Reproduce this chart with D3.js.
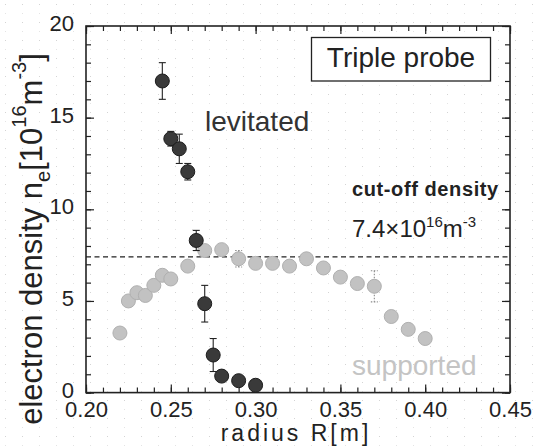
<!DOCTYPE html>
<html><head><meta charset="utf-8">
<script src="https://cdn.jsdelivr.net/npm/d3@7/dist/d3.min.js"></script>
<style>
html,body{margin:0;padding:0;background:#fff;}
svg{display:block;font-family:"Liberation Sans",Arial,sans-serif;}
</style></head>
<body>
<svg id="chart" width="536" height="448"></svg>
<script>
// ---- data ----
const levR   = [0.245, 0.250, 0.255, 0.260, 0.265, 0.270, 0.275, 0.280, 0.290, 0.300];
const levN   = [17.0, 13.85, 13.3, 12.05, 8.3, 4.85, 2.05, 0.9, 0.65, 0.4];
const levErr = [1.0, 0.4, 0.8, 0.45, 0.55, 1.0, 0.9, 0, 0, 0];

const supR   = [0.220, 0.225, 0.230, 0.235, 0.240, 0.245, 0.250, 0.260, 0.270, 0.280,
                0.290, 0.300, 0.310, 0.320, 0.330, 0.340, 0.350, 0.360, 0.370, 0.380, 0.390, 0.400];
const supN   = [3.25, 5.0, 5.45, 5.3, 5.85, 6.4, 6.2, 6.9, 7.75, 7.8,
                7.3, 7.05, 7.05, 6.9, 7.3, 6.8, 6.3, 5.95, 5.8, 4.15, 3.45, 2.95];
const supErr = [0, 0, 0, 0, 0, 0, 0, 0, 0, 0,
                0.45, 0, 0, 0, 0, 0, 0, 0, 0.85, 0, 0, 0];

const cutoff = 7.4;
const xTicks = [0.20, 0.25, 0.30, 0.35, 0.40, 0.45];
const yTicks = [0, 5, 10, 15, 20];

// ---- layout ----
const svg = d3.select("#chart");
const L = 86, R = 510, T = 26, B = 392.6;
const x = d3.scaleLinear().domain([0.20, 0.45]).range([L, R]);
const y = d3.scaleLinear().domain([0, 20]).range([B, T]);

// faint scan-like dot grid background
const defs = svg.append("defs");
const pat = defs.append("pattern").attr("id","dots").attr("patternUnits","userSpaceOnUse")
  .attr("width",17).attr("height",18).attr("x",5).attr("y",4);
pat.append("rect").attr("x",0).attr("y",0).attr("width",1).attr("height",1).attr("fill","#d4d4d4");
pat.append("rect").attr("x",0).attr("y",9).attr("width",1).attr("height",1).attr("fill","#e4e4e4");
svg.append("rect").attr("width",536).attr("height",448).attr("fill","url(#dots)");

// minor ticks
const xMinor = d3.range(0, 26).map(i => 0.20 + i*0.01);
const yMinor = d3.range(0, 21);
function styleAxis(g){ g.select(".domain").remove(); g.selectAll("line").attr("stroke","#222").attr("stroke-width",1.2); }

svg.append("g").attr("transform",`translate(0,${B})`)
  .call(d3.axisBottom(x).tickValues(xMinor).tickSize(-5).tickFormat("")).call(styleAxis);
svg.append("g").attr("transform",`translate(0,${T})`)
  .call(d3.axisTop(x).tickValues(xMinor).tickSize(-5).tickFormat("")).call(styleAxis);
svg.append("g").attr("transform",`translate(${L},0)`)
  .call(d3.axisLeft(y).tickValues(yMinor).tickSize(-5).tickFormat("")).call(styleAxis);
svg.append("g").attr("transform",`translate(${R},0)`)
  .call(d3.axisRight(y).tickValues(yMinor).tickSize(-5).tickFormat("")).call(styleAxis);

// major ticks + labels
const xb = svg.append("g").attr("transform",`translate(0,${B})`)
  .call(d3.axisBottom(x).tickValues(xTicks).tickSize(-8).tickPadding(9).tickFormat(d3.format(".2f")));
xb.call(styleAxis);
xb.selectAll("text").attr("font-size",22).attr("fill","#222").attr("font-family","Liberation Sans, Arial, sans-serif");
svg.append("g").attr("transform",`translate(0,${T})`)
  .call(d3.axisTop(x).tickValues(xTicks).tickSize(-8).tickFormat("")).call(styleAxis);
const yl = svg.append("g").attr("transform",`translate(${L},0)`)
  .call(d3.axisLeft(y).tickValues(yTicks).tickSize(-8).tickPadding(12).tickFormat(d3.format("d")));
yl.call(styleAxis);
yl.selectAll("text").attr("font-size",22).attr("fill","#222").attr("dy","0.2em").attr("font-family","Liberation Sans, Arial, sans-serif");
svg.append("g").attr("transform",`translate(${R},0)`)
  .call(d3.axisRight(y).tickValues(yTicks).tickSize(-8).tickFormat("")).call(styleAxis);

// frame
svg.append("rect").attr("x",L).attr("y",T).attr("width",R-L).attr("height",B-T)
  .attr("fill","none").attr("stroke","#222").attr("stroke-width",1.6);

// cut-off dashed line
svg.append("line").attr("x1",x(0.20)).attr("x2",x(0.45)).attr("y1",y(cutoff)).attr("y2",y(cutoff))
  .attr("stroke","#222").attr("stroke-width",1.3).attr("stroke-dasharray","5,3.5");

const sup = supR.map((r,i)=>({r, n:supN[i], e:supErr[i]}));
const lev = levR.map((r,i)=>({r, n:levN[i], e:levErr[i]}));

function errBars(data, color, dash){
  const g = svg.append("g").attr("stroke",color).attr("stroke-width",1.1);
  if(dash) g.attr("stroke-dasharray",dash);
  data.filter(d=>d.e>0).forEach(d=>{
    g.append("line").attr("x1",x(d.r)).attr("x2",x(d.r)).attr("y1",y(d.n+d.e)).attr("y2",y(d.n-d.e));
    g.append("line").attr("x1",x(d.r)-3.5).attr("x2",x(d.r)+3.5).attr("y1",y(d.n+d.e)).attr("y2",y(d.n+d.e));
    g.append("line").attr("x1",x(d.r)-3.5).attr("x2",x(d.r)+3.5).attr("y1",y(d.n-d.e)).attr("y2",y(d.n-d.e));
  });
}
// supported series
errBars(sup, "#8a8a8a", "1.5,1.5");
svg.append("g").selectAll("circle").data(sup).join("circle")
  .attr("cx",d=>x(d.r)).attr("cy",d=>y(d.n)).attr("r",7)
  .attr("fill","#c2c2c2").attr("stroke","#b0b0b0").attr("stroke-width",1);

// levitated series
errBars(lev, "#222", null);
svg.append("g").selectAll("circle").data(lev).join("circle")
  .attr("cx",d=>x(d.r)).attr("cy",d=>y(d.n)).attr("r",7)
  .attr("fill","#3a3a3a").attr("stroke","#1c1c1c").attr("stroke-width",1);

// annotations
svg.append("rect").attr("x",311.5).attr("y",37.5).attr("width",179).attr("height",43.5)
  .attr("fill","#fff").attr("stroke","#222").attr("stroke-width",1.3);
svg.append("text").attr("x",401).attr("y",67).attr("text-anchor","middle")
  .attr("font-size",28).attr("fill","#222").text("Triple probe");

svg.append("text").attr("x",205).attr("y",130.5).attr("font-size",28).attr("fill","#333").text("levitated");
svg.append("text").attr("x",352).attr("y",375).attr("font-size",28).attr("fill","#c4c4c4").text("supported");

svg.append("text").attr("x",352).attr("y",196).attr("font-size",20).attr("font-weight","bold")
  .attr("letter-spacing",0.6).attr("fill","#222").text("cut-off density");

const co = svg.append("text").attr("x",352).attr("y",237).attr("font-size",24).attr("fill","#222");
co.append("tspan").text("7.4×10");
co.append("tspan").attr("font-size",15).attr("dy",-10).text("16");
co.append("tspan").attr("dy",10).text("m");
co.append("tspan").attr("font-size",15).attr("dy",-10).text("-3");

// axis titles
svg.append("text").attr("x",(L+R)/2 - 2).attr("y",441).attr("text-anchor","middle")
  .attr("font-size",23).attr("letter-spacing",3).attr("fill","#222").text("radius R[m]");

const yt = svg.append("text").attr("transform","translate(42,239) rotate(-90)")
  .attr("text-anchor","middle").attr("font-size",31).attr("fill","#222");
yt.append("tspan").text("electron density n");
yt.append("tspan").attr("font-size",20).attr("dy",8).text("e");
yt.append("tspan").attr("dy",-8).text("[10");
yt.append("tspan").attr("font-size",20).attr("dy",-16).text("16");
yt.append("tspan").attr("dy",16).text("m");
yt.append("tspan").attr("font-size",20).attr("dy",-16).text("-3");
yt.append("tspan").attr("dy",16).text("]");
</script>
</body></html>
